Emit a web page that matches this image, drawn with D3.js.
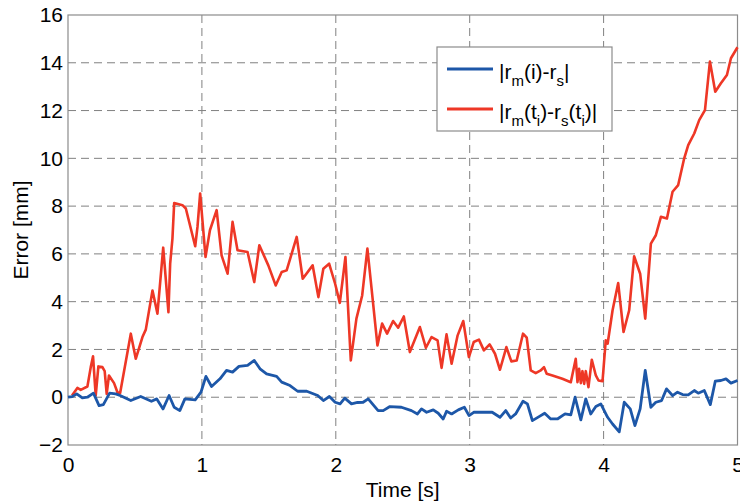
<!DOCTYPE html>
<html lang="en">
  <head>
    <meta charset="utf-8">
    <title>Error vs time</title>
    <script src="https://d3js.org/d3.v7.min.js"></script>
    <style>
      body { margin: 0; background: #fff; }
      text { font-family: "Liberation Sans", Arial, Helvetica, sans-serif; fill: #000; }
    </style>
  </head>
  <body>
    <div id="chart"></div>
    <script type="text/javascript">
      // |r_m(i) - r_s|  (blue)
      const blueT = [0, 0.032, 0.065, 0.107, 0.145, 0.19, 0.232, 0.264, 0.311, 0.356, 0.389, 0.469, 0.543,
                     0.623, 0.663, 0.71, 0.755, 0.793, 0.835, 0.873, 0.95, 0.993, 1.03, 1.072, 1.135, 1.184,
                     1.229, 1.277, 1.341, 1.391, 1.434, 1.483, 1.558, 1.596, 1.658, 1.715, 1.783, 1.865, 1.907,
                     1.952, 1.995, 2.032, 2.067, 2.117, 2.162, 2.204, 2.242, 2.316, 2.354, 2.404, 2.49, 2.565,
                     2.61, 2.64, 2.678, 2.728, 2.765, 2.802, 2.827, 2.865, 2.915, 2.96, 2.995, 3.03, 3.08,
                     3.168, 3.226, 3.269, 3.306, 3.343, 3.398, 3.431, 3.468, 3.518, 3.56, 3.605, 3.655, 3.712,
                     3.755, 3.787, 3.83, 3.867, 3.904, 3.942, 3.979, 4.03, 4.067, 4.117, 4.154, 4.199, 4.234,
                     4.273, 4.311, 4.353, 4.39, 4.433, 4.47, 4.515, 4.552, 4.59, 4.632, 4.677, 4.707, 4.752,
                     4.797, 4.834, 4.876, 4.914, 4.951, 5.0];
      const blueE = [0, 0.03, 0.14, -0.03, 0, 0.17, -0.35, -0.31, 0.17, 0.14, 0.07, -0.14, 0.03,
                     -0.17, -0.07, -0.49, 0.07, -0.42, -0.56, -0.07, -0.11, 0.21, 0.87, 0.45, 0.77, 1.12,
                     1.05, 1.29, 1.33, 1.54, 1.19, 0.98, 0.87, 0.63, 0.49, 0.25, 0.25, 0.07, -0.14,
                     0.03, -0.21, -0.28, -0.04, -0.28, -0.22, -0.21, -0.07, -0.56, -0.56, -0.39, -0.42, -0.56,
                     -0.7, -0.49, -0.63, -0.53, -0.67, -0.91, -0.59, -0.7, -0.53, -0.42, -0.77, -0.63, -0.63,
                     -0.63, -0.84, -0.56, -0.87, -0.7, -0.17, -0.28, -0.98, -0.81, -0.67, -0.91, -0.91, -0.7,
                     -0.74, 0, -0.95, -0.07, -0.7, -0.39, -0.28, -0.84, -1.12, -1.45, -0.21, -0.49, -1.19,
                     -0.49, 1.12, -0.42, -0.21, -0.14, 0.35, 0.07, 0.21, 0.11, 0.1, 0.28, 0.17, 0.28,
                     -0.31, 0.67, 0.7, 0.77, 0.59, 0.7];

      // |r_m(t_i) - r_s(t_i)|  (red)
      const redT = [0.03, 0.07, 0.095, 0.145, 0.17, 0.187, 0.207, 0.227, 0.257, 0.274, 0.289, 0.306, 0.344,
                    0.369, 0.389, 0.469, 0.506, 0.556, 0.581, 0.631, 0.668, 0.711, 0.725, 0.75, 0.763, 0.78,
                    0.793, 0.855, 0.88, 0.95, 0.967, 0.987, 1.027, 1.06, 1.11, 1.147, 1.192, 1.229, 1.266,
                    1.341, 1.391, 1.429, 1.496, 1.551, 1.596, 1.633, 1.708, 1.753, 1.827, 1.87, 1.907, 1.95,
                    1.995, 2.03, 2.072, 2.112, 2.154, 2.197, 2.236, 2.266, 2.311, 2.346, 2.383, 2.428, 2.466,
                    2.508, 2.553, 2.628, 2.673, 2.715, 2.76, 2.79, 2.827, 2.865, 2.91, 2.952, 2.994, 3.03,
                    3.069, 3.106, 3.149, 3.189, 3.226, 3.274, 3.311, 3.351, 3.398, 3.426, 3.456, 3.493, 3.53,
                    3.555, 3.575, 3.618, 3.692, 3.755, 3.792, 3.805, 3.817, 3.83, 3.842, 3.855, 3.867, 3.887,
                    3.912, 3.942, 3.962, 3.992, 4.016, 4.03, 4.067, 4.109, 4.149, 4.191, 4.228, 4.273, 4.311,
                    4.353, 4.39, 4.428, 4.473, 4.515, 4.557, 4.602, 4.632, 4.677, 4.714, 4.757, 4.794, 4.834,
                    4.876, 4.921, 4.951, 5.0];
      const redE = [0.07, 0.39, 0.31, 0.45, 1.26, 1.71, 0.07, 1.29, 1.26, 1.09, 0.14, 0.91, 0.59,
                    0.21, 0.17, 2.66, 1.61, 2.52, 2.83, 4.47, 3.5, 6.26, 5.31, 3.56, 5.59, 6.64,
                    8.13, 8.04, 7.9, 6.32, 7.13, 8.53, 5.87, 6.99, 7.83, 5.94, 5.17, 7.34, 6.15,
                    6.08, 4.82, 6.36, 5.52, 4.68, 5.24, 5.31, 6.71, 4.96, 5.52, 4.19, 5.38, 5.59,
                    4.75, 3.95, 5.87, 1.54, 3.29, 4.26, 6.22, 4.61, 2.17, 3.08, 2.66, 3.19, 2.91,
                    3.38, 1.89, 2.94, 2.07, 2.52, 2.38, 1.23, 2.63, 1.4, 2.59, 3.19, 1.68, 2.31,
                    2.41, 1.96, 2.21, 1.82, 1.15, 2.1, 1.5, 1.54, 2.66, 2.49, 1.12, 1.01, 1.12,
                    1.26, 0.98, 0.91, 0.77, 0.63, 1.61, 0.63, 1.19, 0.59, 1.09, 0.56, 1.09, 0.42,
                    1.57, 0.91, 0.7, 0.67, 2.38, 2.24, 3.64, 4.78, 2.73, 3.64, 5.9, 5.17, 3.29,
                    6.43, 6.78, 7.55, 7.48, 8.6, 8.88, 10.0, 10.55, 11.04, 11.6, 12.02, 14.05, 12.79,
                    13.14, 13.49, 14.19, 14.65];

      const xTicks = [0, 1, 2, 3, 4, 5];
      const yTicks = [-2, 0, 2, 4, 6, 8, 10, 12, 14, 16];

      const blue = "#1d57a8", red = "#ee3726";

      function drawChart() {
          let svgWidth = 740, svgHeight = 503;
          let left = 68, right = 737.5, top = 15, bottom = 445;

          let svg = d3.select("#chart")
              .append("svg")
              .attr("width", svgWidth)
              .attr("height", svgHeight);

          let x = d3.scaleLinear().domain([0, 5]).range([left, right]);
          let y = d3.scaleLinear().domain([-2, 16]).range([bottom, top]);

          // dashed grid
          svg.append("g")
              .selectAll("line")
              .data(xTicks.slice(1, -1))
              .join("line")
              .attr("x1", d => x(d)).attr("x2", d => x(d))
              .attr("y1", top).attr("y2", bottom)
              .attr("stroke", "#808080")
              .attr("stroke-width", 1)
              .attr("stroke-dasharray", "8,5");

          svg.append("g")
              .selectAll("line")
              .data(yTicks.slice(1, -1))
              .join("line")
              .attr("x1", left).attr("x2", right)
              .attr("y1", d => y(d)).attr("y2", d => y(d))
              .attr("stroke", "#808080")
              .attr("stroke-width", 1)
              .attr("stroke-dasharray", "8,5");

          // axes box
          svg.append("rect")
              .attr("x", left).attr("y", top)
              .attr("width", right - left).attr("height", bottom - top)
              .attr("fill", "none")
              .attr("stroke", "#8c8c8c")
              .attr("stroke-width", 1.2);

          let xAxis = d3.axisBottom(x).tickValues(xTicks).tickSize(0).tickPadding(12)
              .tickFormat(d3.format("d"));
          svg.append("g")
              .attr("transform", "translate(0," + bottom + ")")
              .call(xAxis)
              .call(g => g.select(".domain").remove())
              .selectAll("text")
              .style("font-size", "21px")
              .style("font-family", "'Liberation Sans', Arial, sans-serif");

          let yAxis = d3.axisLeft(y).tickValues(yTicks).tickSize(0).tickPadding(5)
              .tickFormat(d3.format("d"));
          svg.append("g")
              .attr("transform", "translate(" + left + ",0)")
              .call(yAxis)
              .call(g => g.select(".domain").remove())
              .selectAll("text")
              .style("font-size", "21px")
              .style("font-family", "'Liberation Sans', Arial, sans-serif");

          // series
          let line = d3.line()
              .x(d => x(d[0]))
              .y(d => y(d[1]));

          svg.append("path")
              .datum(redT.map((t, i) => [t, redE[i]]))
              .attr("d", line)
              .attr("fill", "none")
              .attr("stroke", red)
              .attr("stroke-width", 2.6)
              .attr("stroke-linejoin", "round");

          svg.append("path")
              .datum(blueT.map((t, i) => [t, blueE[i]]))
              .attr("d", line)
              .attr("fill", "none")
              .attr("stroke", blue)
              .attr("stroke-width", 2.8)
              .attr("stroke-linejoin", "round");

          // axis titles
          svg.append("text")
              .attr("x", (left + right) / 2)
              .attr("y", 497)
              .attr("text-anchor", "middle")
              .style("font-size", "21px")
              .text("Time [s]");

          svg.append("text")
              .attr("transform", "translate(28," + (top + bottom) / 2 + ") rotate(-90)")
              .attr("text-anchor", "middle")
              .style("font-size", "21px")
              .text("Error [mm]");

          // legend
          let lg = svg.append("g");
          lg.append("rect")
              .attr("x", 437).attr("y", 47)
              .attr("width", 175).attr("height", 84)
              .attr("fill", "#fff")
              .attr("stroke", "#8c8c8c")
              .attr("stroke-width", 1.2);

          const entries = [
              { color: blue, y: 69, parts: [["|r", 0], ["m", 1], ["(i)-r", 0], ["s", 1], ["|", 0]] },
              { color: red, y: 109, parts: [["|r", 0], ["m", 1], ["(t", 0], ["i", 1], [")-r", 0], ["s", 1], ["(t", 0], ["i", 1], [")|", 0]] }
          ];

          entries.forEach(e => {
              lg.append("line")
                  .attr("x1", 447).attr("x2", 493)
                  .attr("y1", e.y).attr("y2", e.y)
                  .attr("stroke", e.color)
                  .attr("stroke-width", 2.8);

              let t = lg.append("text")
                  .attr("x", 499)
                  .attr("y", e.y + 10)
                  .style("font-size", "21px");
              let sub = 0;
              e.parts.forEach(p => {
                  let dy = p[1] === sub ? 0 : (p[1] ? 7 : -7);
                  sub = p[1];
                  t.append("tspan")
                      .attr("dy", dy)
                      .style("font-size", p[1] ? "15px" : "21px")
                      .text(p[0]);
              });
          });
      }

      drawChart();
    </script>
  </body>
</html>
